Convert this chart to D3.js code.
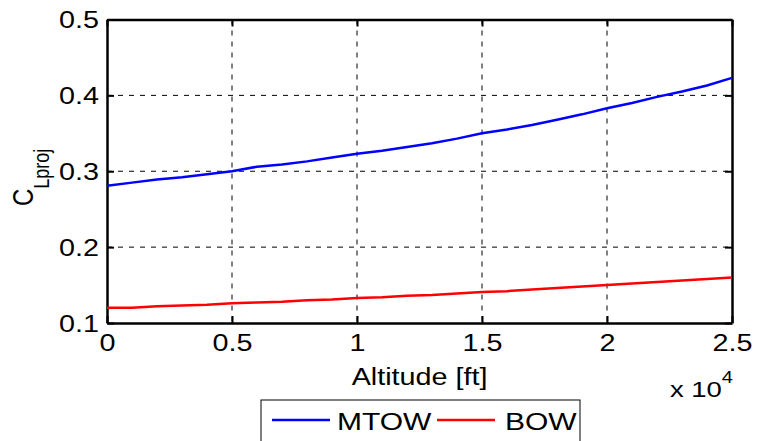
<!DOCTYPE html>
<html>
<head>
<meta charset="utf-8">
<script src="https://cdn.jsdelivr.net/npm/d3@7"></script>
<style>
  body { margin: 0; background: #fff; }
  text { font-family: "Liberation Sans", Arial, sans-serif; fill: #000; }
</style>
</head>
<body>
<div class="canva"></div>
<script>
// altitude in ft
const altitude = [0, 1000, 2000, 3000, 4000, 5000, 6000, 7000, 8000, 9000, 10000,
  11000, 12000, 13000, 14000, 15000, 16000, 17000, 18000, 19000, 20000,
  21000, 22000, 23000, 24000, 25000];
const mtow = [0.281, 0.285, 0.289, 0.292, 0.296, 0.300, 0.306, 0.309, 0.313, 0.318, 0.323,
  0.327, 0.332, 0.337, 0.343, 0.350, 0.355, 0.361, 0.368, 0.375, 0.383,
  0.390, 0.398, 0.405, 0.413, 0.423];
const bow = [0.120, 0.120, 0.122, 0.123, 0.124, 0.126, 0.127, 0.128, 0.130, 0.131, 0.133,
  0.134, 0.136, 0.137, 0.139, 0.141, 0.142, 0.144, 0.146, 0.148, 0.150,
  0.152, 0.154, 0.156, 0.158, 0.160];
const xTicks = [0, 5000, 10000, 15000, 20000, 25000];
const yTicks = [0.1, 0.2, 0.3, 0.4, 0.5];
const seriesNames = ["MTOW", "BOW"];

const W = 757, H = 441;
const sx = 1.25; // text looks stretched sideways in the picture
const margin = {top: 19.5, left: 107, right: 25, bottom: 118};
const graphWidth = W - margin.left - margin.right;
const graphHeight = H - margin.top - margin.bottom;

const svg = d3.select(".canva").append("svg")
  .attr("width", W).attr("height", H);

const g = svg.append("g")
  .attr("transform", `translate(${margin.left}, ${margin.top})`);

const x = d3.scaleLinear().domain([0, 25000]).range([0, graphWidth]);
const y = d3.scaleLinear().domain([0.1, 0.5]).range([graphHeight, 0]);

// grid
g.append("g")
  .selectAll("line.vg").data(xTicks.slice(1, -1)).enter().append("line")
  .attr("x1", d => x(d)).attr("x2", d => x(d))
  .attr("y1", 0).attr("y2", graphHeight)
  .attr("stroke", "#000").attr("stroke-width", 1).attr("stroke-dasharray", "5,6");
g.append("g")
  .selectAll("line.hg").data(yTicks.slice(1, -1)).enter().append("line")
  .attr("x1", 0).attr("x2", graphWidth)
  .attr("y1", d => y(d)).attr("y2", d => y(d))
  .attr("stroke", "#000").attr("stroke-width", 1).attr("stroke-dasharray", "5,6");

// axes, ticks inside
const fmtX = d => d3.format("~g")(d / 1e4);
const xAxis = d3.axisBottom(x).tickValues(xTicks).tickSizeInner(-7).tickSizeOuter(0).tickPadding(12).tickFormat(fmtX);
const xTop = d3.axisTop(x).tickValues(xTicks).tickSizeInner(-7).tickSizeOuter(0).tickFormat("");
const yAxis = d3.axisLeft(y).tickValues(yTicks).tickSizeInner(-7).tickSizeOuter(0).tickPadding(0).tickFormat(d3.format(".1f"));
const yRight = d3.axisRight(y).tickValues(yTicks).tickSizeInner(-7).tickSizeOuter(0).tickFormat("");

const gx = g.append("g").attr("transform", `translate(0, ${graphHeight})`).call(xAxis);
const gt = g.append("g").call(xTop);
const gy = g.append("g").call(yAxis);
const gr = g.append("g").attr("transform", `translate(${graphWidth}, 0)`).call(yRight);

[gx, gt, gy, gr].forEach(a => {
  a.select(".domain").attr("stroke", "#000").attr("stroke-width", 2.5);
  a.selectAll(".tick line").attr("stroke", "#000").attr("stroke-width", 2);
});
gx.selectAll(".tick text")
  .style("font-size", "23px")
  .attr("dy", "0.71em")
  .attr("y", 12)
  .attr("transform", `scale(${sx},1)`);
gy.selectAll(".tick text")
  .style("font-size", "23px")
  .attr("x", -8 / sx)
  .attr("dy", "0.35em")
  .attr("transform", `scale(${sx},1)`);

// lines
const colors = {MTOW: "#0000ff", BOW: "#ff0000"};
const line = d3.line()
  .x((d, i) => x(altitude[i]))
  .y(d => y(d));
g.append("path").datum(mtow)
  .attr("fill", "none").attr("stroke", colors.MTOW).attr("stroke-width", 2.5)
  .attr("d", line);
g.append("path").datum(bow)
  .attr("fill", "none").attr("stroke", colors.BOW).attr("stroke-width", 2.5)
  .attr("d", line);

// axis labels
svg.append("text")
  .attr("transform", `translate(${margin.left + graphWidth / 2}, 385) scale(${sx},1)`)
  .attr("text-anchor", "middle")
  .style("font-size", "23px")
  .text("Altitude [ft]");

const yl = svg.append("text")
  .attr("transform", `translate(33, 206) scale(${sx},1) rotate(-90)`)
  .style("font-size", "24px");
yl.append("tspan").text("C");
yl.append("tspan").attr("dy", 13).style("font-size", "18px").text("Lproj");

// exponent
const ex = svg.append("text")
  .attr("transform", `translate(733, 397) scale(${sx},1)`)
  .attr("text-anchor", "end")
  .style("font-size", "22px");
ex.append("tspan").text("x 10");
ex.append("tspan").attr("dy", -14).style("font-size", "16px").text("4");

// legend
const legend = svg.append("g").attr("transform", "translate(261, 400)");
legend.append("rect")
  .attr("x", 0).attr("y", 0).attr("width", 319).attr("height", 48)
  .attr("fill", "#fff").attr("stroke", "#000").attr("stroke-width", 1);
const items = [
  {name: seriesNames[0], lx: 11, tx: 76},
  {name: seriesNames[1], lx: 176, tx: 244}
];
items.forEach(it => {
  legend.append("line")
    .attr("x1", it.lx).attr("x2", it.lx + 58)
    .attr("y1", 20).attr("y2", 20)
    .attr("stroke", colors[it.name]).attr("stroke-width", 2.5);
  legend.append("text")
    .attr("transform", `translate(${it.tx}, 30) scale(${sx},1)`)
    .style("font-size", "24px")
    .text(it.name);
});
</script>
</body>
</html>
